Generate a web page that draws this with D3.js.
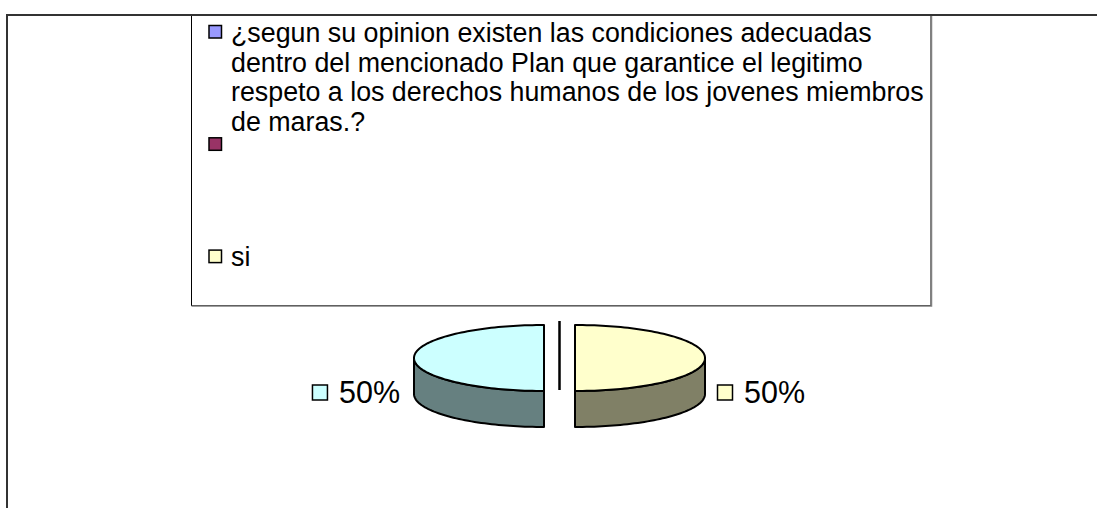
<!DOCTYPE html>
<html><head><meta charset="utf-8">
<script src="https://cdn.jsdelivr.net/npm/d3@7"></script>
<style>body{margin:0;background:#fff}svg{display:block}text{font-family:"Liberation Sans",Arial,sans-serif;fill:#000}</style>
</head><body>
<script>
const categories = ["¿segun su opinion existen las condiciones adecuadas dentro del mencionado Plan que garantice el legitimo respeto a los derechos humanos de los jovenes miembros de maras.?", "", "si", "no"];
const values = [0, 0, 50, 50];
const colors = ["#9999FF", "#993366", "#FFFFCC", "#CCFFFF"];
const sideColors = ["#4D4D80", "#4D1A33", "#808066", "#668080"];

const W = 1097, H = 508;
const svg = d3.select("body").append("svg").attr("width", W).attr("height", H);

// outer frame (top and left edges visible)
svg.append("path").attr("d", `M7,508 V15 H1097`).attr("fill", "none").attr("stroke", "#333").attr("stroke-width", 2);

// legend box
const lg = {x: 191.5, y: 15, w: 739.5, h: 290.5};
svg.append("rect").attr("x", lg.x).attr("y", lg.y).attr("width", lg.w).attr("height", lg.h)
  .attr("fill", "#fff").attr("stroke", "#000").attr("stroke-width", 1);
svg.append("path").attr("d", `M${lg.x},${lg.y+lg.h+0.5} H${lg.x+lg.w+0.5} V${lg.y}`)
  .attr("fill", "none").attr("stroke", "#808080").attr("stroke-width", 1.5);
svg.append("path").attr("d", `M7,15 H1097`).attr("stroke", "#333").attr("stroke-width", 2);

const legFont = 26.8, lineH = 29.8, slot = 112.3, markTop = 25.5;
categories.forEach((c, i) => {
  const top = markTop + i * slot;
  if (top + 14 > lg.y + lg.h) return;
  svg.append("rect").attr("x", 209).attr("y", top).attr("width", 12.5).attr("height", 12.5)
    .attr("fill", colors[i]).attr("stroke", "#000").attr("stroke-width", 1.5);
  const t = svg.append("text").attr("x", 231).attr("y", top + 16.2).style("font-size", legFont + "px");
  // word wrap
  const words = c.split(" ").filter(w => w.length);
  let line = [];
  let ts = t.append("tspan").attr("x", 231).attr("dy", 0);
  words.forEach(w => {
    line.push(w);
    ts.text(line.join(" "));
    if (ts.node().getComputedTextLength() > 697 && line.length > 1) {
      line.pop(); ts.text(line.join(" "));
      line = [w];
      ts = t.append("tspan").attr("x", 231).attr("dy", lineH).text(w);
    }
  });
});

// 3D pie
const cx = 559.5, cy = 358, rx = 130, ry = 33, depth = 36, explode = 15.5;
const arcs = d3.pie().sort(null).value(d => d)(values);
const total = d3.sum(values);
const fmt = d3.format(".0%");

function P(a, o, z) { return [cx + o[0] + rx * Math.sin(a), cy + o[1] - ry * Math.cos(a) + (z || 0)]; }
function offset(d) {
  const m = (d.startAngle + d.endAngle) / 2;
  return [explode * Math.sin(m), -explode * Math.cos(m) * ry / rx];
}
function sample(a0, a1, o, z) {
  const n = Math.max(2, Math.ceil(Math.abs(a1 - a0) / 0.03));
  return d3.range(n + 1).map(k => P(a0 + (a1 - a0) * k / n, o, z));
}
const line = d3.line();
const g = svg.append("g");

// zero slices: degenerate cut faces
arcs.forEach((d, i) => {
  if (d.value !== 0) return;
  const o = offset(d);
  const C = [cx + o[0], cy + o[1]];
  const p = P(d.startAngle, o);
  const pts = [C, p, [p[0], p[1] + depth], [C[0], C[1] + depth]];
  g.append("path").attr("d", line(pts) + "Z").attr("fill", sideColors[i]).attr("stroke", "#000").attr("stroke-width", 2);
});
// side walls
arcs.forEach((d, i) => {
  if (d.value === 0) return;
  const o = offset(d);
  const a0 = Math.max(d.startAngle, Math.PI / 2), a1 = Math.min(d.endAngle, 3 * Math.PI / 2);
  if (a1 <= a0) return;
  const pts = sample(a0, a1, o, 0).concat(sample(a1, a0, o, depth));
  g.append("path").attr("d", line(pts) + "Z").attr("fill", sideColors[i])
    .attr("stroke", "#000").attr("stroke-width", 2).attr("stroke-linejoin", "round");
});
// tops
arcs.forEach((d, i) => {
  if (d.value === 0) return;
  const o = offset(d);
  const pts = [[cx + o[0], cy + o[1]]].concat(sample(d.startAngle, d.endAngle, o, 0));
  g.append("path").attr("d", line(pts) + "Z").attr("fill", colors[i])
    .attr("stroke", "#000").attr("stroke-width", 2).attr("stroke-linejoin", "round");
});
// data labels
arcs.forEach((d, i) => {
  if (d.value === 0) return;
  const o = offset(d);
  const m = (d.startAngle + d.endAngle) / 2;
  const p = P(m, o);
  const yc = cy + 34.5;
  const lab = svg.append("g");
  const t = lab.append("text").text(fmt(d.value / total)).style("font-size", "30.5px").attr("y", yc + 10.9);
  const tw = t.node().getComputedTextLength();
  let x0;
  if (Math.sin(m) >= 0) x0 = p[0] + 12.5; else x0 = p[0] - 14 - tw - 11 - 15.5;
  lab.append("rect").attr("x", x0).attr("y", yc - 7.5).attr("width", 15).attr("height", 15)
    .attr("fill", colors[i]).attr("stroke", "#000").attr("stroke-width", 1.5);
  t.attr("x", x0 + 15.5 + 11);
});
</script>
</body></html>
